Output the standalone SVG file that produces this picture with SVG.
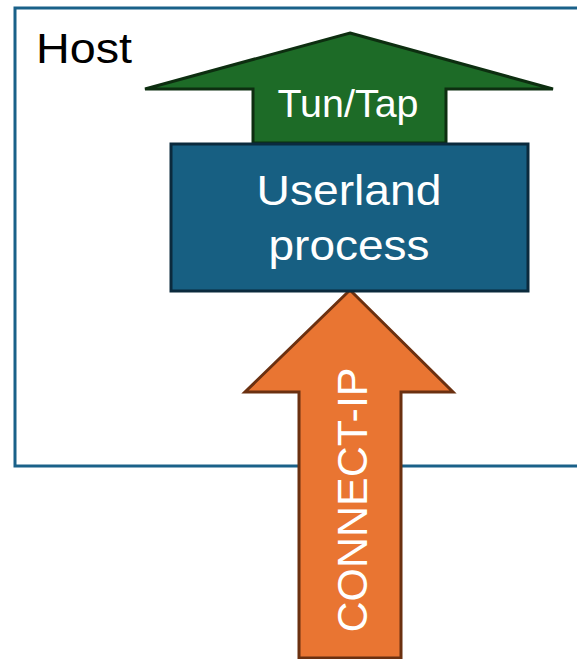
<svg xmlns="http://www.w3.org/2000/svg" width="577" height="659" viewBox="0 0 577 659">
  <style>
    .lbl { font-family: "Liberation Sans", Arial, sans-serif; }
    .white { fill: #ffffff; }
  </style>
  <rect width="577" height="659" fill="#ffffff"/>

  <!-- Host boundary (open to the right) -->
  <g id="host">
    <rect x="15" y="8" width="570" height="458" fill="none" stroke="#1a6189" stroke-width="3"/>
    <text class="lbl" x="36" y="63" font-size="43" fill="#000000" textLength="96" lengthAdjust="spacingAndGlyphs">Host</text>
  </g>

  <g id="connectors">
    <!-- Tun/Tap up-arrow -->
    <g id="tuntap">
      <polygon points="350,33 553,89 446,89 446,143 253,143 253,89 145,89" fill="#1d6b27" stroke="#0d2e10" stroke-width="3" stroke-linejoin="miter"/>
      <text class="lbl white" x="348" y="117" font-size="39" text-anchor="middle" textLength="141" lengthAdjust="spacingAndGlyphs">Tun/Tap</text>
    </g>
    <!-- CONNECT-IP up-arrow -->
    <g id="connect-ip">
      <polygon points="350,290 453,392 401,392 401,658 299,658 299,392 245,392" fill="#e97532" stroke="#6b3010" stroke-width="3"/>
      <text class="lbl white" transform="translate(367,500) rotate(-90)" font-size="43" text-anchor="middle" textLength="265" lengthAdjust="spacingAndGlyphs">CONNECT-IP</text>
    </g>
  </g>

  <!-- Userland process node -->
  <g id="userland">
    <rect x="171" y="144" width="357" height="147" fill="#175f82" stroke="#0b2a3d" stroke-width="3"/>
    <text class="lbl white" x="349" y="205" font-size="42" text-anchor="middle" textLength="185" lengthAdjust="spacingAndGlyphs">Userland</text>
    <text class="lbl white" x="349" y="260" font-size="42" text-anchor="middle" textLength="161" lengthAdjust="spacingAndGlyphs">process</text>
  </g>
</svg>
